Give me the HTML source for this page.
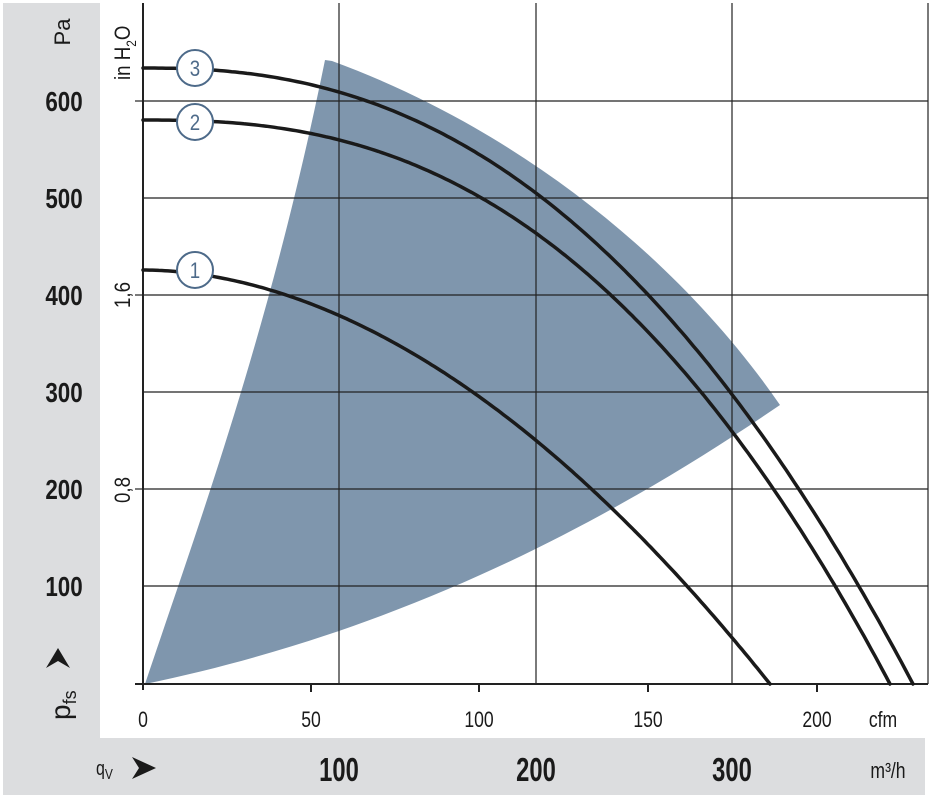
<!DOCTYPE html>
<html><head><meta charset="utf-8"><style>
html,body{margin:0;padding:0;background:#fff;}
svg{display:block;}
text{font-family:"Liberation Sans",sans-serif;}
</style></head><body>
<svg width="930" height="798" viewBox="0 0 930 798" xmlns="http://www.w3.org/2000/svg">
<rect x="0" y="0" width="930" height="798" fill="#fff"/>
<rect x="3" y="3" width="97" height="736" fill="#dcdddf"/>
<rect x="3" y="738" width="922" height="57" fill="#dcdddf"/>
<path d="M145,684 C200,520 270,330 325,60 L332,61 C520,130 680,260 780,405 C640,500 430,625 145,684 Z" fill="#7f96ad"/>
<g stroke="#222" stroke-width="1.2" fill="none">
<line x1="143" y1="101" x2="928" y2="101"/>
<line x1="143" y1="198" x2="928" y2="198"/>
<line x1="143" y1="295" x2="928" y2="295"/>
<line x1="143" y1="392" x2="928" y2="392"/>
<line x1="143" y1="489" x2="928" y2="489"/>
<line x1="143" y1="586" x2="928" y2="586"/>
<line x1="339" y1="3" x2="339" y2="684"/>
<line x1="536" y1="3" x2="536" y2="684"/>
<line x1="732" y1="3" x2="732" y2="684"/>
<line x1="928" y1="3" x2="928" y2="684"/>
<line x1="135" y1="101" x2="143" y2="101"/>
<line x1="135" y1="295" x2="143" y2="295"/>
<line x1="135" y1="489" x2="143" y2="489"/>
</g>
<g stroke="#222" stroke-width="2" fill="none">
<line x1="143" y1="3" x2="143" y2="690"/>
<line x1="135" y1="684" x2="928" y2="684"/>
<line x1="311" y1="684" x2="311" y2="692"/>
<line x1="479" y1="684" x2="479" y2="692"/>
<line x1="648" y1="684" x2="648" y2="692"/>
<line x1="817" y1="684" x2="817" y2="692"/>
</g>
<g id="curves" stroke="#1a1a1a" stroke-width="3.5" fill="none" stroke-linecap="round"></g>
<g stroke="#4d6a89" stroke-width="2" fill="#fff">
<circle cx="195" cy="68" r="18"/>
<circle cx="195" cy="122" r="18"/>
<circle cx="195" cy="270" r="18"/>
</g>
<g fill="#4d6a89" font-size="22" text-anchor="middle">
<text x="0" y="0" transform="translate(195 76) scale(0.85 1)">3</text>
<text x="0" y="0" transform="translate(195 130) scale(0.85 1)">2</text>
<text x="0" y="0" transform="translate(195 278) scale(0.85 1)">1</text>
</g>
<g fill="#1a1a1a" font-size="28" text-anchor="middle" font-weight="bold">
<text x="0" y="0" transform="translate(64 111) scale(0.8 1)">600</text>
<text x="0" y="0" transform="translate(64 208) scale(0.8 1)">500</text>
<text x="0" y="0" transform="translate(64 305) scale(0.8 1)">400</text>
<text x="0" y="0" transform="translate(64 402) scale(0.8 1)">300</text>
<text x="0" y="0" transform="translate(64 499) scale(0.8 1)">200</text>
<text x="0" y="0" transform="translate(64 596) scale(0.8 1)">100</text>
</g>
<text x="0" y="0" font-size="22" fill="#1a1a1a" text-anchor="middle" transform="translate(70 32) rotate(-90)">Pa</text>
<text x="0" y="0" font-size="22" fill="#1a1a1a" transform="translate(130 80) rotate(-90) scale(0.85 1)">in H<tspan font-size="14" dy="6">2</tspan><tspan dy="-6">O</tspan></text>
<text x="0" y="0" font-size="22" fill="#1a1a1a" text-anchor="middle" transform="translate(130 295) rotate(-90) scale(0.85 1)">1,6</text>
<text x="0" y="0" font-size="22" fill="#1a1a1a" text-anchor="middle" transform="translate(130 490) rotate(-90) scale(0.85 1)">0,8</text>
<text x="0" y="0" font-size="28" fill="#1a1a1a" transform="translate(70 720) rotate(-90)">p<tspan font-size="18" dy="6">fs</tspan></text>
<path d="M46,668 L58,648 L70,668 L58,661 Z" fill="#1a1a1a"/>
<g fill="#1a1a1a" font-size="22" text-anchor="middle">
<text x="0" y="0" transform="translate(143 727) scale(0.8 1)">0</text>
<text x="0" y="0" transform="translate(311 727) scale(0.8 1)">50</text>
<text x="0" y="0" transform="translate(479 727) scale(0.8 1)">100</text>
<text x="0" y="0" transform="translate(648 727) scale(0.8 1)">150</text>
<text x="0" y="0" transform="translate(817 727) scale(0.8 1)">200</text>
<text x="0" y="0" transform="translate(883 727) scale(0.8 1)">cfm</text>
</g>
<g fill="#1a1a1a" font-size="33" text-anchor="middle" font-weight="bold">
<text x="0" y="0" transform="translate(339 781) scale(0.72 1)">100</text>
<text x="0" y="0" transform="translate(536 781) scale(0.72 1)">200</text>
<text x="0" y="0" transform="translate(732 781) scale(0.72 1)">300</text>
</g>
<text x="0" y="0" font-size="22" fill="#1a1a1a" text-anchor="middle" transform="translate(888 778) scale(0.8 1)">m³/h</text>
<text x="0" y="0" font-size="20" fill="#1a1a1a" transform="translate(96 775) scale(0.8 1)">q<tspan font-size="15" dy="4">V</tspan></text>
<path d="M132,757 L156,768 L132,779 L139,768 Z" fill="#1a1a1a"/>
</svg>
<script>
(function(){
var g=document.getElementById('curves');
var defs=[[68,770,2.37],[120,747,2.5],[270,627,1.9]];
defs.forEach(function(d){
 var p0=684-d[0],xm=d[1],n=d[2],s='';
 for(var i=0;i<=200;i++){var dx=xm*i/200;var y=684-p0*(1-Math.pow(dx/xm,n));s+=(i?'L':'M')+(143+dx).toFixed(1)+','+y.toFixed(1);}
 var p=document.createElementNS('http://www.w3.org/2000/svg','path');p.setAttribute('d',s);g.appendChild(p);
});
})();
</script>
</body></html>
